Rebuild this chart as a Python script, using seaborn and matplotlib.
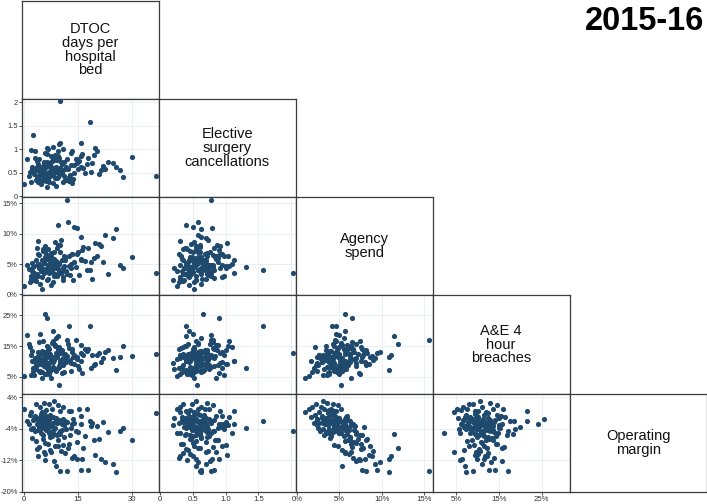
import matplotlib
matplotlib.use("Agg")
import matplotlib.pyplot as plt
import pandas as pd
import seaborn as sns

# ---------------- data (one value per trust) ----------------
dtoc = [8.5, 3.3, 0.0, 5.5, 7.0, 4.6, 9.5, 11.0, 6.2, 13.0, 2.0, 7.8, 15.5, 17.5, 10.2, 5.0, 12.5, 36.7,
        6.0, 3.0, 4.4, 7.2, 8.8, 5.8, 9.8, 2.5, 11.5, 18.5, 6.6, 4.0, 14.0, 8.0, 6.5, 5.2, 10.5, 16.0, 7.5,
        3.6, 9.0, 12.0, 4.8, 6.9, 19.0, 8.2, 2.8, 5.6, 13.5, 7.3, 10.8, 22.0, 1.5, 9.3, 6.3,
        10.2, 2.6, 26.9, 9.5, 5.1, 7.7, 4.2, 8.6, 11.8, 6.1, 3.2, 15.0, 7.0, 9.9, 5.4, 12.8, 20.5, 6.7,
        8.4, 3.9, 14.5, 4.7, 10.0, 7.9, 17.0, 5.9, 11.2, 2.2, 23.5, 6.4, 9.2, 13.2, 4.5, 8.1, 30.0,
        12.2, 7.2, 5.3, 9.6, 3.5, 14.8, 6.8, 11.0, 8.7, 4.3, 16.5, 7.4, 10.3, 2.4, 19.5, 6.0, 12.6, 5.7,
        21.0, 9.4, 3.7,
        13.9, 14.8, 25.7, 12.0, 21.5, 13.5, 16.2, 24.7, 10.1, 16.0, 18.0, 6.0, 5.8, 11.5, 8.3, 19.8, 9.0,
        4.0, 22.5, 7.6,
        4.9, 7.1, 5.5, 8.9, 3.8, 6.8, 10.6, 5.2, 7.6, 4.1, 9.7, 6.4, 1.8, 8.0, 5.0, 27.5, 15.8, 2.0, 11.3,
        18.8, 13.7, 9.9, 1.0, 8.0, 6.5, 9.0]
elective = [0.55, 0.35, 0.25, 0.72, 0.48, 0.62, 0.80, 0.30, 0.45, 0.92, 0.30, 0.58, 0.75, 0.68, 1.13, 0.52, 0.40, 0.43,
            0.60, 0.95, 0.47, 0.70, 0.38, 0.65, 0.82, 0.55, 0.57, 1.57, 1.00, 0.42, 0.66, 0.28, 0.90, 0.62, 0.50, 0.85, 0.44,
            0.75, 0.63, 0.35, 0.58, 0.52, 0.70, 1.05, 0.48, 0.40, 0.95, 0.67, 0.55, 0.65, 0.42, 0.77, 0.33,
            2.03, 1.31, 0.55, 0.40, 0.60, 0.72, 0.36, 0.88, 0.62, 0.49, 0.82, 0.58, 0.30, 1.10, 0.54, 0.45, 0.97, 0.64,
            0.52, 0.68, 0.80, 0.26, 0.60, 0.75, 0.50, 0.92, 0.43, 0.58, 0.72, 1.03, 0.38, 0.66, 0.50, 0.78, 0.84,
            0.58, 0.62, 0.45, 0.86, 0.55, 0.70, 0.35, 1.00, 0.52, 0.80, 0.60, 0.42, 0.73, 0.62, 0.88, 0.50, 0.32, 0.70,
            0.47, 0.95, 0.40,
            0.50, 0.79, 0.62, 0.78, 0.55, 0.28, 0.90, 0.70, 0.60, 0.63, 0.82, 0.41, 0.45, 0.35, 0.76, 1.02, 0.55,
            0.30, 0.58, 0.85,
            0.57, 0.47, 0.70, 0.51, 0.63, 0.39, 0.69, 0.44, 0.61, 0.54, 0.46, 0.73, 0.51, 0.60, 0.33, 0.40, 1.12, 0.98, 0.72,
            0.52, 0.37, 0.56, 0.78, 0.44, 0.19, 0.21]
agency = [3.0, 2.2, 1.4, 3.5, 4.2, 1.8, 4.8, 2.8, 3.8, 4.4, 2.6, 5.2, 3.2, 4.0, 3.6, 0.9, 4.6, 3.6,
          3.9, 2.9, 4.5, 5.0, 3.4, 5.7, 4.1, 2.4, 6.2, 4.1, 4.7, 3.1, 5.4, 2.0, 6.5, 4.3, 3.7, 5.9, 1.6,
          4.9, 5.5, 3.3, 4.0, 6.0, 2.6, 4.6, 3.5, 5.1, 6.6, 4.4, 2.3, 5.3, 4.2, 3.0, 5.8,
          3.6, 4.5, 4.8, 11.4, 5.6, 6.8, 4.3, 5.3, 3.8, 6.1, 2.7, 7.0, 4.9, 5.0, 7.4, 3.2, 6.3, 2.5,
          5.8, 6.7, 4.5, 3.9, 6.9, 4.0, 5.5, 7.9, 4.7, 5.2, 3.4, 6.4, 7.7, 5.0, 4.6, 3.5, 6.2,
          11.9, 6.2, 7.2, 8.1, 5.6, 6.7, 7.5, 4.4, 8.6, 6.5, 7.8, 5.3, 8.9, 3.9, 6.0, 7.0, 6.4, 5.7,
          8.3, 4.8, 7.6,
          11.05, 10.9, 10.8, 15.6, 8.0, 6.6, 7.3, 9.2, 8.1, 9.4, 7.7, 7.4, 6.1, 5.6, 6.9, 8.5, 5.3,
          8.8, 9.8, 6.4,
          4.1, 3.6, 5.2, 4.5, 3.3, 4.8, 5.6, 2.9, 4.2, 5.0, 3.9, 4.4, 2.1, 5.9, 3.8, 4.3, 5.7, 3.0, 6.3,
          5.4, 2.4, 5.2, 4.9, 5.6, 2.3, 4.4]
ae = [10.5, 9.0, 5.2, 13.0, 8.0, 6.5, 14.5, 11.0, 6.0, 9.5, 12.0, 16.0, 7.5, 13.5, 10.0, 4.5, 21.6, 12.5,
      11.5, 9.8, 7.0, 12.5, 15.0, 25.5, 8.5, 6.8, 10.8, 21.5, 13.8, 11.2, 9.2, 7.8, 24.0, 12.8, 6.2, 15.5, 10.2,
      8.8, 17.5, 11.8, 9.5, 14.0, 12.2, 16.5, 5.5, 10.0, 13.2, 7.2, 9.0, 11.0, 15.8, 12.0, 8.3,
      12.9, 8.0, 11.5, 18.2, 13.5, 10.6, 6.8, 15.2, 9.7, 12.4, 11.0, 8.6, 5.8, 14.8, 16.8, 10.4, 12.0, 9.0,
      7.4, 13.0, 17.0, 10.8, 9.4, 11.6, 14.2, 12.6, 6.5, 10.1, 13.8, 15.0, 11.3, 7.0, 18.8, 8.2, 11.9,
      15.8, 9.9, 12.3, 13.6, 7.6, 10.7, 14.6, 9.1, 11.4, 16.2, 12.1, 6.9, 10.5, 13.3, 8.7, 11.1, 14.4, 9.6,
      12.7, 7.9, 10.3,
      12.2, 11.6, 7.3, 17.0, 9.8, 13.9, 6.4, 11.0, 8.9, 12.6, 14.0, 5.9, 10.2, 12.4, 15.6, 9.3, 7.0,
      11.8, 13.1, 4.5,
      9.3, 11.4, 8.4, 12.9, 10.6, 7.1, 13.7, 9.9, 10.9, 12.0, 8.1, 11.7, 14.6, 9.7, 6.6, 15.0, 10.3, 5.7, 12.5,
      8.0, 11.3, 2.2, 18.6, 19.8, 9.4, 7.7]
margin = [3.1, 2.2, 1.1, 2.6, 2.4, 1.6, 1.9, 1.4, 0.8, 0.4, 0.2, 1.0, 0.9, 1.0, 0.6, 0.3, 0.6, 0.0,
          -0.5, -0.8, -1.0, -1.2, -1.4, -1.6, -1.7, -1.9, -2.0, -2.0, -2.2, -2.3, -2.5, -2.6, -2.7, -2.8, -2.9, -0.7, -1.1,
          -1.5, -2.1, -2.4, -0.3, -1.8, -2.6, -0.9, -1.3, -2.0, -2.8, -0.6, -1.6, -2.2, -2.9, -2.5, -1.0,
          -4.7, -3.8, -4.7, -5.4, -3.2, -3.4, -3.6, -3.9, -4.1, -4.3, -4.5, -4.8, -5.0, -5.2, -5.5, -5.7, -3.3, -3.7,
          -4.0, -4.4, -4.6, -5.1, -5.3, -5.8, -5.9, -3.5, -3.1, -4.2, -4.9, -3.0, -5.6, -3.8, -4.1, -5.0, -6.8,
          -8.8, -6.2, -6.5, -6.9, -7.2, -7.5, -7.8, -8.1, -8.4, -8.7, -9.0, -9.3, -9.6, -6.4, -7.0, -7.6, -8.0, -9.8,
          -6.6, -8.3, -9.1,
          -10.9, -11.6, -14.9, -14.8, -11.6, -11.4, -11.7, -13.0, -14.7, -14.5, -14.6, -12.0, -10.4, -10.2, -12.3, -10.6, -13.6,
          -11.0, -12.5, -10.0,
          -2.4, -3.1, -3.9, -1.9, -2.7, -3.3, -4.4, -1.4, -4.8, -3.5, -2.2, -4.0, -0.4, -5.4, -1.7, -3.9, -2.8, -4.2, -6.0,
          -3.2, -1.5, -5.0, -2.0, -3.6, -3.0, -1.2]

var_keys = ["dtoc", "elective", "agency", "ae", "margin"]
var_labels = ["DTOC\ndays per\nhospital\nbed",
              "Elective\nsurgery\ncancellations",
              "Agency\nspend",
              "A&E 4\nhour\nbreaches",
              "Operating\nmargin"]
title_text = "2015-16"

# tick values / labels per variable
y_ticks = {"elective": [0, 0.5, 1, 1.5, 2], "agency": [0, 5, 10, 15],
           "ae": [5, 15, 25], "margin": [4, -4, -12, -20]}
y_tick_labels = {"elective": ["0", "0.5", "1", "1.5", "2"], "agency": ["0%", "5%", "10%", "15%"],
                 "ae": ["5%", "15%", "25%"], "margin": ["4%", "-4%", "-12%", "-20%"]}
x_ticks = {"dtoc": [0, 15, 30], "elective": [0, 0.5, 1.0, 1.5], "agency": [0, 5, 10, 15],
           "ae": [5, 15, 25]}
x_tick_labels = {"dtoc": ["0", "15", "30"], "elective": ["0", "0.5", "1.0", "1.5"],
                 "agency": ["0%", "5%", "10%", "15%"], "ae": ["5%", "15%", "25%"]}
grid_ticks = {"dtoc": [0, 15, 30], "elective": [0, 0.5, 1, 1.5, 2], "agency": [0, 5, 10, 15],
              "ae": [5, 15, 25], "margin": [4, -4, -12, -20]}

df = pd.DataFrame({"dtoc": dtoc, "elective": elective, "agency": agency, "ae": ae, "margin": margin})

# ---------------- styling / layout ----------------
sns.set_style("white")
plt.rcParams["font.family"] = ["Liberation Sans", "DejaVu Sans"]

limits = {"dtoc": (-0.5, 37.6), "elective": (-0.02, 2.07), "agency": (-0.15, 16.0),
          "ae": (-0.5, 31.5), "margin": (-20.1, 4.9)}

W, H = 707, 504
fig = plt.figure(figsize=(W / 100, H / 100), dpi=100)
left0, colw = 22.0, 136.9
top0, rowh = 0.5, 98.3
n = len(var_keys)
point_color = "#1f4a6e"
spine_color = "#3c3c3c"
grid_color = "#e6edf3"

for i in range(n):
    for j in range(i + 1):
        l = left0 + j * colw
        t = top0 + i * rowh
        ax = fig.add_axes([l / W, 1 - (t + rowh) / H, colw / W, rowh / H])
        for sp in ax.spines.values():
            sp.set_color(spine_color)
            sp.set_linewidth(0.9)
        if i == j:
            ax.set_xticks([])
            ax.set_yticks([])
            ax.text(0.5, 0.5, var_labels[i], ha="center", va="center", fontsize=10.5,
                    linespacing=0.98, transform=ax.transAxes, color="#111111")
            continue
        xv, yv = var_keys[j], var_keys[i]
        for gx in grid_ticks[xv]:
            ax.axvline(gx, color=grid_color, lw=0.6, zorder=0)
        for gy in grid_ticks[yv]:
            ax.axhline(gy, color=grid_color, lw=0.6, zorder=0)
        sns.scatterplot(data=df, x=xv, y=yv, ax=ax, color=point_color, s=14,
                        linewidth=0, legend=False, zorder=3)
        ax.set_xlim(*limits[xv])
        ax.set_ylim(*limits[yv])
        ax.set_xlabel("")
        ax.set_ylabel("")
        if j == 0:
            ax.set_yticks(y_ticks[yv])
            ax.set_yticklabels(y_tick_labels[yv])
            ax.tick_params(axis="y", left=True, length=2, width=0.6, pad=1,
                           labelsize=5.4, colors="#333333")
        else:
            ax.set_yticks([])
        if i == n - 1:
            ax.set_xticks(x_ticks[xv])
            ax.set_xticklabels(x_tick_labels[xv])
            ax.tick_params(axis="x", bottom=True, length=2, width=0.6, pad=1,
                           labelsize=5.6, colors="#333333")
        else:
            ax.set_xticks([])

fig.text(704 / W, 1 - 22 / H, title_text, ha="right", va="center",
         fontsize=23.5, fontweight="bold", color="black")

fig.savefig("out.png", dpi=100)
